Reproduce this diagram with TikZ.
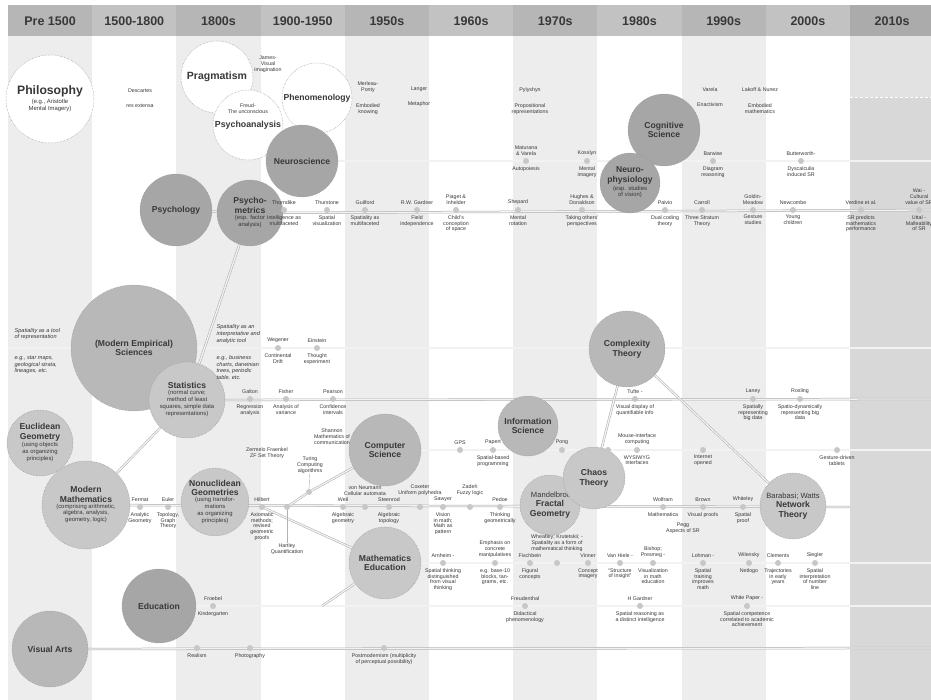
\documentclass[tikz,border=0pt]{standalone}
\usepackage{fontspec}
\setmainfont{Liberation Sans}
\usetikzlibrary{positioning}
\pgfdeclarelayer{back}
\pgfdeclarelayer{rails}
\pgfsetlayers{back,rails,main}
\definecolor{band}{HTML}{EDEDED}
\definecolor{late}{HTML}{D8D8D8}
\definecolor{lateup}{HTML}{E2E2E2}
\definecolor{headA}{HTML}{C2C2C2}
\definecolor{headB}{HTML}{B6B6B6}
\definecolor{headC}{HTML}{ABABAB}
\definecolor{dark}{HTML}{A6A6A6}
\definecolor{mid}{HTML}{B8B8B8}
\definecolor{pale}{HTML}{C8C8C8}
\definecolor{rim}{HTML}{959595}
\definecolor{ink}{HTML}{383838}
\newcommand\subtxt{\fontsize{5.9}{6.8}\selectfont\mdseries}
\newcommand\midtxt{\fontsize{7.6}{8.6}\selectfont\mdseries}
\newcommand\ttltxt{\fontsize{8.6}{9.6}\selectfont\bfseries}
\newcommand\sublines[1]{{\subtxt\begin{tabular}{@{}c@{}}#1\end{tabular}}}
\tikzset{
  era/.style={font=\fontsize{12.5}{14}\selectfont\bfseries, text=ink},
  field/.style={circle, draw=rim, densely dotted, line width=0.5pt, inner sep=0pt, align=center, text=ink, font=\ttltxt},
  lab/.style={font=\fontsize{5.3}{5.9}\selectfont, align=center, text=ink, inner sep=0.4pt},
  note/.style={font=\fontsize{5.6}{6.6}\selectfont\itshape, align=left, text=ink, inner sep=0.4pt},
  ev/.style={circle, fill=black!22, minimum size=6pt, inner sep=0pt},
  rail/.style={draw=black!32, double=black!5, double distance=1.3pt, line width=0.5pt},
  lead/.style={draw=black!30, line width=0.4pt},
}
\begin{document}
\begin{tikzpicture}[x=1pt, y=-1pt, node distance=1.5pt]
\useasboundingbox (0,0) rectangle (931,700);
\clip (0,0) rectangle (931,700);

% eras
\begin{pgfonlayer}{back}
  \foreach \c in {0,2,4,6,8}
    \fill[band] ({8+84.2*\c},36) rectangle ++(84.2,664);
  \fill[late] (850,36) rectangle (931,700);
  \fill[lateup] (850,36) rectangle (931,97);
  \draw[white, densely dashed, line width=0.8pt] (850,97) -- (931,97);
  \fill[headA] (8,5) rectangle (931,36);
  \foreach \c in {0,2,4,6,8}
    \fill[headB] ({8+84.2*\c},5) rectangle ++(84.2,31);
  \fill[headC] (850,5) rectangle (931,36);
\end{pgfonlayer}
\foreach \c/\t in {0/Pre 1500,1/1500-1800,2/1800s,3/1900-1950,4/1950s,5/1960s,6/1970s,7/1980s,8/1990s,9/2000s,10/2010s}
  \node[era] (era\c) at ({50.1+84.2*\c},21) {\t};

% fields
\node[field, fill=white, minimum size=88pt, font=\fontsize{12.2}{13}\selectfont\bfseries] (phil) at (50,99) {Philosophy\\[-1pt]\sublines{(e.g., Aristotle\\Mental Imagery)}};
\node[field, fill=white, minimum size=72pt, font=\fontsize{10.5}{12}\selectfont\bfseries] (prag) at (217,77) {Pragmatism};
\node[field, fill=white, minimum size=70pt, font=\fontsize{8.8}{10}\selectfont\bfseries] (psa) at (248,125) {Psychoanalysis};
\node[lab] (freud) at (248,109) {Freud-\\The unconscious};
\node[field, fill=white, minimum size=70pt] (phen) at (317,98) {Phenomenology};
\node[field, fill=dark, minimum size=72pt] (neuro) at (302,161) {Neuroscience};
\node[field, fill=dark, minimum size=72pt] (psy) at (176,210) {Psychology};
\node[field, fill=dark, minimum size=66pt] (pmet) at (250,213) {Psycho-\\metrics\\\sublines{(esp. factor\\analysis)}};
\node[field, fill=dark, minimum size=72pt] (cog) at (664,130) {Cognitive\\Science};
\node[field, fill=dark, minimum size=60pt] (nphys) at (630,183) {Neuro-\\physiology\\\sublines{(esp. studies\\of vision)}};
\node[field, fill=mid, minimum size=126pt] (sci) at (134,348) {(Modern Empirical)\\Sciences};
\node[field, fill=pale, minimum size=76pt] (stat) at (187,400) {Statistics\\\sublines{(normal curve;\\method of least\\squares, simple data\\representations)}};
\node[field, fill=pale, minimum size=66pt] (eucl) at (40,443) {Euclidean\\Geometry\\\sublines{(using objects\\as organizing\\principles)}};
\node[field, fill=pale, minimum size=88pt] (mmath) at (86,505) {Modern\\Mathematics\\\sublines{(comprising arithmetic,\\algebra, analysis,\\geometry, logic)}};
\node[field, fill=pale, minimum size=66pt] (noneu) at (215,502) {Nonuclidean\\Geometries\\\sublines{(using transfor-\\mations\\as organizing\\principles)}};
\node[field, fill=dark, minimum size=74pt] (edu) at (159,606) {Education};
\node[field, fill=mid, minimum size=76pt] (arts) at (50,649) {Visual Arts};
\node[field, fill=mid, minimum size=72pt] (comp) at (385,450) {Computer\\Science};
\node[field, fill=pale, minimum size=72pt] (mathed) at (385,563) {Mathematics\\Education};
\node[field, fill=mid, minimum size=60pt] (info) at (528,426) {Information\\Science};
\node[field, fill=mid, minimum size=76pt] (cplx) at (627,349) {Complexity\\Theory};
\node[field, fill=pale, minimum size=60pt] (fract) at (550,505) {\midtxt Mandelbrot\\Fractal\\Geometry};
\node[field, fill=pale, minimum size=62pt] (chaos) at (594,478) {Chaos\\Theory};
\node[field, fill=pale, minimum size=66pt] (net) at (793,506) {\midtxt Barabasi; Watts\\Network\\Theory};

% free ends of the tracks
\coordinate (nsE) at (931,161);
\coordinate (psyE) at (931,210);
\coordinate (sciW) at (8,348);
\coordinate (sciE) at (931,348);
\coordinate (statE) at (931,399);
\coordinate (compE) at (931,450);
\coordinate (mathE) at (850,507);
\coordinate (medE) at (931,563);
\coordinate (eduE) at (931,606);
\coordinate (artsE) at (931,648);
\coordinate (eduJ) at (322,606);

% events
% neuroscience
\node[ev] (mv) at (526,161) {};
\node[lab, above=of mv] (mv-a) {Maturana\\\& Varela};
\node[lab, below=of mv] (mv-b) {Autopoiesis};
\node[ev] (kos) at (587,161) {};
\node[lab, above=of kos] (kos-a) {Kosslyn};
\node[lab, below=of kos] (kos-b) {Mental\\imagery};
\node[ev] (bar) at (713,161) {};
\node[lab, above=of bar] (bar-a) {Barwise};
\node[lab, below=of bar] (bar-b) {Diagram\\reasoning};
\node[ev] (but) at (801,161) {};
\node[lab, above=of but] (but-a) {Butterworth-};
\node[lab, below=of but] (but-b) {Dyscalculia\\induced SR};
% psychology
\node[ev] (thor) at (284,210) {};
\node[lab, above=of thor] (thor-a) {Thorndike};
\node[lab, below=of thor] (thor-b) {Intelligence as\\multifaceted};
\node[ev] (thu) at (327,210) {};
\node[lab, above=of thu] (thu-a) {Thurstone};
\node[lab, below=of thu] (thu-b) {Spatial\\visualization};
\node[ev] (gui) at (365,210) {};
\node[lab, above=of gui] (gui-a) {Guilford};
\node[lab, below=of gui] (gui-b) {Spatiality as\\multifaceted};
\node[ev] (rwg) at (417,210) {};
\node[lab, above=of rwg] (rwg-a) {R.W. Gardner};
\node[lab, below=of rwg] (rwg-b) {Field\\independence};
\node[ev] (pia) at (456,210) {};
\node[lab, above=of pia] (pia-a) {Piaget \&\\Inhelder};
\node[lab, below=of pia] (pia-b) {Child's\\conception\\of space};
\node[ev] (she) at (518,210) {};
\node[lab, above=of she] (she-a) {Shepard};
\node[lab, below=of she] (she-b) {Mental\\rotation};
\node[ev] (hug) at (582,210) {};
\node[lab, above=of hug] (hug-a) {Hughes \&\\Donaldson};
\node[lab, below=of hug] (hug-b) {Taking others'\\perspectives};
\node[ev] (pai) at (665,210) {};
\node[lab, above=of pai] (pai-a) {Paivio};
\node[lab, below=of pai] (pai-b) {Dual coding\\theory};
\node[ev] (car) at (702,210) {};
\node[lab, above=of car] (car-a) {Carroll};
\node[lab, below=of car] (car-b) {Three Stratum\\Theory};
\node[ev] (gol) at (753,210) {};
\node[lab, above=of gol] (gol-a) {Goldin-\\Meadow};
\node[lab, below=of gol] (gol-b) {Gesture\\studies};
\node[ev] (new) at (793,210) {};
\node[lab, above=of new] (new-a) {Newcombe};
\node[lab, below=of new] (new-b) {Young\\children};
\node[ev] (ver) at (861,210) {};
\node[lab, above=of ver] (ver-a) {Verdine et al.};
\node[lab, below=of ver] (ver-b) {SR predicts\\mathematics\\performance};
\node[ev] (wai) at (919,210) {};
\node[lab, above=of wai] (wai-a) {Wai -\\Cultural\\value of SR};
\node[lab, below=of wai] (wai-b) {Uttal -\\Malleability\\of SR};
% sciences
\node[ev] (weg) at (278,348) {};
\node[lab, above=of weg] (weg-a) {Wegener};
\node[lab, below=of weg] (weg-b) {Continental\\Drift};
\node[ev] (ein) at (317,348) {};
\node[lab, above=of ein] (ein-a) {Einstein};
\node[lab, below=of ein] (ein-b) {Thought\\experiment};
\node[note, anchor=west] (tool1) at (14,334) {Spatiality as a tool\\of representation};
\node[note, anchor=west] (eg1) at (14,365) {e.g., star maps,\\geological strata,\\lineages, etc.};
\node[note, anchor=west] (tool2) at (216,334) {Spatiality as an\\interpretative and\\analytic tool};
\node[note, anchor=west] (eg2) at (216,368) {e.g., business\\charts, darwinian\\trees, periodic\\table, etc.};
% statistics
\node[ev] (gal) at (250,399) {};
\node[lab, above=of gal] (gal-a) {Galton};
\node[lab, below=of gal] (gal-b) {Regression\\analysis};
\node[ev] (fis) at (286,399) {};
\node[lab, above=of fis] (fis-a) {Fisher};
\node[lab, below=of fis] (fis-b) {Analysis of\\variance};
\node[ev] (pea) at (333,399) {};
\node[lab, above=of pea] (pea-a) {Pearson};
\node[lab, below=of pea] (pea-b) {Confidence\\intervals};
\node[ev] (tuf) at (635,399) {};
\node[lab, above=of tuf] (tuf-a) {Tufte -};
\node[lab, below=of tuf] (tuf-b) {Visual display of\\quantifiable info};
\node[ev] (lan) at (753,399) {};
\node[lab, above=of lan] (lan-a) {Laney};
\node[lab, below=of lan] (lan-b) {Spatially\\representing\\big data};
\node[ev] (ros) at (800,399) {};
\node[lab, above=of ros] (ros-a) {Rosling};
\node[lab, below=of ros] (ros-b) {Spatio-dynamically\\representing big\\data};
% computer science
\node[ev] (gps) at (460,450) {};
\node[lab, above=of gps] (gps-a) {GPS};
\node[ev] (pap) at (493,450) {};
\node[lab, above=of pap] (pap-a) {Papert};
\node[lab, below=of pap] (pap-b) {Spatial-based\\programming};
\node[ev] (pong) at (562,450) {};
\node[lab, above=of pong] (pong-a) {Pong};
\node[ev] (cross) at (608,450) {};
\node[ev] (mou) at (637,450) {};
\node[lab, above=of mou] (mou-a) {Mouse-interface\\computing};
\node[lab, below=of mou] (mou-b) {WYSIWYG\\interfaces};
\node[ev] (www) at (703,450) {};
\node[lab, below=of www] (www-b) {Internet\\opened};
\node[ev] (tab) at (837,450) {};
\node[lab, below=of tab] (tab-b) {Gesture-driven\\tablets};
\node[lab] (sha) at (332,437) {Shannon\\Mathematics of\\communication};
\node[lab] (zer) at (267,453) {Zermelo Fraenkel\\ZF Set Theory};
\node[lab] (tur) at (310,465) {Turing\\Computing\\algorithms};
\node[ev] (turd) at (309,492) {};
% mathematics
\node[ev] (fer) at (140,507) {};
\node[lab, above=of fer] (fer-a) {Fermat};
\node[lab, below=of fer] (fer-b) {Analytic\\Geometry};
\node[ev] (eul) at (168,507) {};
\node[lab, above=of eul] (eul-a) {Euler};
\node[lab, below=of eul] (eul-b) {Topology,\\Graph\\Theory};
\node[ev] (hil) at (262,507) {};
\node[lab, above=of hil] (hil-a) {Hilbert};
\node[lab, below=of hil] (hil-b) {Axiomatic\\methods;\\revised\\geometric\\proofs};
\node[ev] (jn) at (287,507) {};
\node[lab] (har) at (287,549) {Hartley\\Quantification};
\node[ev] (wei) at (343,507) {};
\node[lab, above=of wei] (wei-a) {Weil};
\node[lab, below=of wei] (wei-b) {Algebraic\\geometry};
\node[ev] (vnm) at (365,507) {};
\node[lab, above=8pt of vnm] (vnm-a) {von Neumann\\Cellular automata};
\node[ev] (ste) at (389,507) {};
\node[lab, above=of ste] (ste-a) {Steenrod};
\node[lab, below=of ste] (ste-b) {Algebraic\\topology};
\node[ev] (cox) at (420,507) {};
\node[lab, above=8pt of cox] (cox-a) {Coxeter\\Uniform polyhedra};
\node[ev] (saw) at (443,507) {};
\node[lab, above=of saw] (saw-a) {Sawyer};
\node[lab, below=of saw] (saw-b) {Vision\\in math;\\Math as\\pattern};
\node[ev] (zad) at (470,507) {};
\node[lab, above=8pt of zad] (zad-a) {Zadeh\\Fuzzy logic};
\node[ev] (ped) at (500,507) {};
\node[lab, above=of ped] (ped-a) {Pedoe};
\node[lab, below=of ped] (ped-b) {Thinking\\geometrically};
\node[ev] (wol) at (663,507) {};
\node[lab, above=of wol] (wol-a) {Wolfram};
\node[lab, below=of wol] (wol-b) {Mathematica};
\node[lab] (peg) at (683,528) {Pegg\\Aspects of SR};
\node[ev] (bro) at (703,507) {};
\node[lab, above=of bro] (bro-a) {Brown};
\node[lab, below=of bro] (bro-b) {Visual proofs};
\node[ev] (whi) at (743,507) {};
\node[lab, above=of whi] (whi-a) {Whiteley};
\node[lab, below=of whi] (whi-b) {Spatial\\proof};
% mathematics education
\node[ev] (arn) at (443,563) {};
\node[lab, above=of arn] (arn-a) {Arnheim -};
\node[lab, below=of arn] (arn-b) {Spatial thinking\\distinguished\\from visual\\thinking};
\node[ev] (emp) at (495,563) {};
\node[lab, above=of emp] (emp-a) {Emphasis on\\concrete\\manipulatives};
\node[lab, below=of emp] (emp-b) {e.g. base-10\\blocks, tan-\\grams, etc.};
\node[ev] (fsb) at (530,563) {};
\node[lab, above=of fsb] (fsb-a) {Fischbein};
\node[lab, below=of fsb] (fsb-b) {Figural\\concepts};
\node[ev] (wkp) at (557,563) {};
\node[lab, above=8pt of wkp] (wkp-a) {Wheatley; Krutetskii; -\\Spatiality as a form of\\mathematical thinking};
\node[ev] (vin) at (588,563) {};
\node[lab, above=of vin] (vin-a) {Vinner};
\node[lab, below=of vin] (vin-b) {Concept\\imagery};
\node[ev] (vhi) at (620,563) {};
\node[lab, above=of vhi] (vhi-a) {Van Hiele -};
\node[lab, below=of vhi] (vhi-b) {``Structure\\of insight''};
\node[ev] (bis) at (653,563) {};
\node[lab, above=of bis] (bis-a) {Bishop;\\Presmeg -};
\node[lab, below=of bis] (bis-b) {Visualization\\in math\\education};
\node[ev] (loh) at (703,563) {};
\node[lab, above=of loh] (loh-a) {Lohman -};
\node[lab, below=of loh] (loh-b) {Spatial\\training\\improves\\math};
\node[ev] (wil) at (749,563) {};
\node[lab, above=of wil] (wil-a) {Wilensky};
\node[lab, below=of wil] (wil-b) {Netlogo};
\node[ev] (cle) at (778,563) {};
\node[lab, above=of cle] (cle-a) {Clements};
\node[lab, below=of cle] (cle-b) {Trajectories\\in early\\years};
\node[ev] (sie) at (815,563) {};
\node[lab, above=of sie] (sie-a) {Siegler};
\node[lab, below=of sie] (sie-b) {Spatial\\interpretation\\of number\\line};
% education
\node[ev] (fro) at (213,606) {};
\node[lab, above=of fro] (fro-a) {Froebel};
\node[lab, below=of fro] (fro-b) {Kindergarten};
\node[ev] (fre) at (525,606) {};
\node[lab, above=of fre] (fre-a) {Freudenthal};
\node[lab, below=of fre] (fre-b) {Didactical\\phenomenology};
\node[ev] (hga) at (640,606) {};
\node[lab, above=of hga] (hga-a) {H Gardner};
\node[lab, below=of hga] (hga-b) {Spatial reasoning as\\a distinct intelligence};
\node[ev] (wpa) at (747,606) {};
\node[lab, above=of wpa] (wpa-a) {White Paper -};
\node[lab, below=of wpa] (wpa-b) {Spatial competence\\correlated to academic\\achievement};
% visual arts
\node[ev] (rea) at (197,648) {};
\node[lab, below=of rea] (rea-b) {Realism};
\node[ev] (pho) at (250,648) {};
\node[lab, below=of pho] (pho-b) {Photography};
\node[ev] (pom) at (384,648) {};
\node[lab, below=of pom] (pom-b) {Postmodernism (multiplicity\\of perceptual possibility)};
% loose texts
\node[lab] (desc) at (140,91) {Descartes};
\node[lab] (resx) at (140,106) {res extensa};
\node[lab] (jam) at (268,64) {James-\\Visual\\imagination};
\node[lab] (mer) at (368,87) {Merleau-\\Ponty};
\node[lab] (merb) at (368,109) {Embodied\\knowing};
\node[lab] (lan1) at (419,89) {Langer};
\node[lab] (lan2) at (419,104) {Metaphor};
\node[lab] (pyl) at (530,90) {Pylyshyn};
\node[lab] (pylb) at (530,109) {Propositional\\representations};
\node[lab] (var) at (710,90) {Varela};
\node[lab] (varb) at (710,105) {Enactivism};
\node[lab] (lak) at (760,90) {Lakoff \& Nunez};
\node[lab] (lakb) at (760,109) {Embodied\\mathematics};

% tracks
\begin{pgfonlayer}{rails}
  \draw[rail] (neuro) -- (nsE);
  \draw[rail] (psy) -- (pmet);
  \draw[rail] (pmet) -- (psyE);
  \draw[rail] (sciW) -- (sci);
  \draw[rail] (sci) -- (sciE);
  \draw[rail] (stat) -- (statE);
  \draw[rail] (comp) -- (compE);
  \draw[rail] (mmath) -- (mathE);
  \draw[rail] (mathed) -- (medE);
  \draw[rail] (edu) -- (eduE);
  \draw[rail] (arts) -- (artsE);
  \draw[rail] (pmet) -- (stat);
  \draw[rail] (stat) -- (mmath);
  \draw[rail] (comp) -- (turd) -- (jn);
  \draw[rail] (hil) -- (mathed);
  \draw[rail] (mathed) -- (eduJ);
  \draw[rail] (cplx) -- (chaos);
  \draw[rail] (cplx) -- (net);
  \draw[lead] (tur) -- (turd);
  \draw[lead] (jn) -- (har);
\end{pgfonlayer}
\end{tikzpicture}
\end{document}
